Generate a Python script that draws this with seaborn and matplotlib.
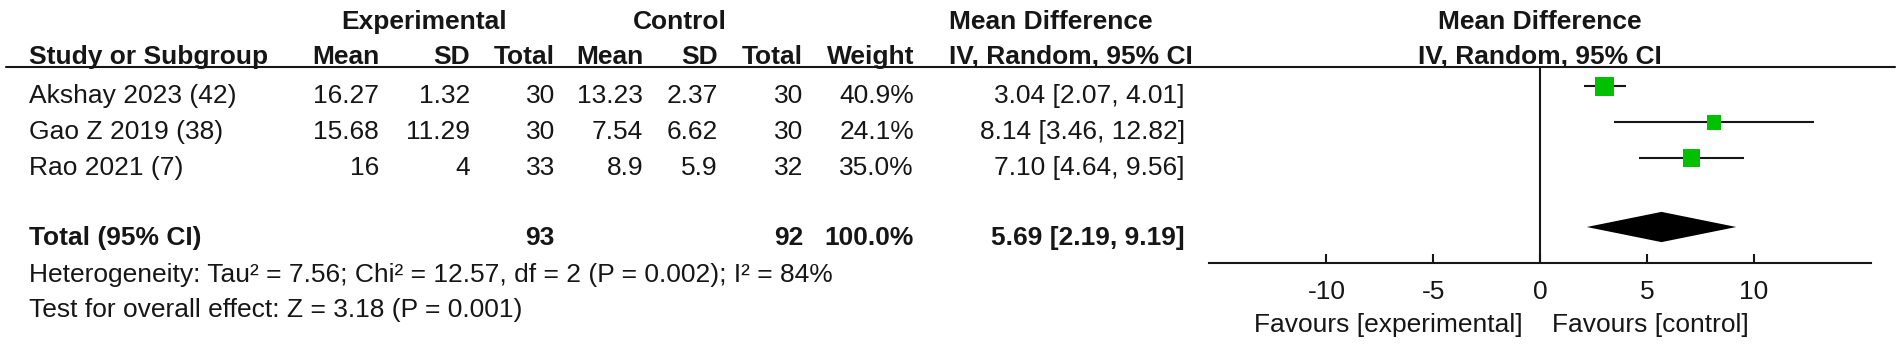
import numpy as np
import pandas as pd
import seaborn as sns
import matplotlib.pyplot as plt

# study data
studies = ["Akshay 2023 (42)", "Gao Z 2019 (38)", "Rao 2021 (7)"]
exp_mean = ["16.27", "15.68", "16"]
exp_sd = ["1.32", "11.29", "4"]
exp_n = [30, 30, 33]
ctl_mean = ["13.23", "7.54", "8.9"]
ctl_sd = ["2.37", "6.62", "5.9"]
ctl_n = [30, 30, 32]
weight = [40.9, 24.1, 35.0]
md = [3.04, 8.14, 7.10]
md_lo = [2.07, 3.46, 4.64]
md_hi = [4.01, 12.82, 9.56]

# pooled
tot_md, tot_lo, tot_hi = 5.69, 2.19, 9.19
tot_exp_n, tot_ctl_n = 93, 92
het_text = "Heterogeneity: Tau\u00b2 = 7.56; Chi\u00b2 = 12.57, df = 2 (P = 0.002); I\u00b2 = 84%"
eff_text = "Test for overall effect: Z = 3.18 (P = 0.001)"
xticks = [-10, -5, 0, 5, 10]

sns.set_theme(style="white")
plt.rcParams["font.family"] = ["Liberation Sans", "DejaVu Sans"]
plt.rcParams["font.size"] = 19
TXT = "#161616"
GREEN = "#00c000"

W, H = 1901, 347
fig = plt.figure(figsize=(W / 100, H / 100), dpi=100)

# table axes in pixel coords
ax_t = fig.add_axes([0, 0, 1, 1])
ax_t.set_xlim(0, W)
ax_t.set_ylim(H, 0)
ax_t.axis("off")

# forest axes
x0, x1, ytop, ybot = 1209, 1871, 66.7, 263
ax = fig.add_axes([x0 / W, 1 - ybot / H, (x1 - x0) / W, (ybot - ytop) / H])
ax.patch.set_visible(False)
row0, step = 86.3, 36.0
ax.set_ylim((ybot - row0) / step, (ytop - row0) / step)
ax.set_xlim(-15.5, 15.5)

df = pd.DataFrame({"study": studies, "md": md, "lo": md_lo, "hi": md_hi,
                   "w": weight, "row": np.arange(len(studies))})
tot_row = (227 - row0) / step

ax.axvline(0, color=TXT, lw=1.5, zorder=1)
ax.hlines(df["row"], df["lo"], df["hi"], color=TXT, lw=1.5, zorder=2)
sns.scatterplot(data=df, x="md", y="row", size="w",
                sizes={w: w * 4.6 for w in weight}, marker="s",
                color=GREEN, edgecolor="none", legend=False, ax=ax, zorder=3)
ax.fill([tot_lo, tot_md, tot_hi, tot_md], [tot_row, tot_row - 0.42, tot_row, tot_row + 0.42],
        color="black", lw=0, zorder=3)

ax.set_xticks(xticks)
ax.set_xticklabels([str(t) for t in xticks])
ax.set_yticks([])
ax.set_xlabel("")
ax.set_ylabel("")
for s in ["top", "left", "right"]:
    ax.spines[s].set_visible(False)
ax.spines["bottom"].set_linewidth(1.5)
ax.spines["bottom"].set_color(TXT)
ax.tick_params(axis="x", direction="in", length=6.5, width=1.5, color=TXT,
               pad=12, labelsize=19, labelcolor=TXT, bottom=True)

# header
ax_t.plot([6, 1895], [66.7, 66.7], color=TXT, lw=1.5)
hb1, hb2 = 29, 63.5
bold = dict(fontweight="bold", color=TXT, va="baseline")
ax_t.text(424, hb1, "Experimental", ha="center", **bold)
ax_t.text(680, hb1, "Control", ha="center", **bold)
ax_t.text(949, hb1, "Mean Difference", ha="left", **bold)
ax_t.text(1540, hb1, "Mean Difference", ha="center", **bold)
ax_t.text(29, hb2, "Study or Subgroup", ha="left", **bold)
cols = [379, 470, 555, 643, 718, 803, 914]
for x, lab in zip(cols, ["Mean", "SD", "Total", "Mean", "SD", "Total", "Weight"]):
    ax_t.text(x, hb2, lab, ha="right", **bold)
ax_t.text(949, hb2, "IV, Random, 95% CI", ha="left", **bold)
ax_t.text(1540, hb2, "IV, Random, 95% CI", ha="center", **bold)

# study rows
norm = dict(color=TXT, va="baseline")
for i in range(len(studies)):
    yb = 103 + step * i
    ax_t.text(29, yb, studies[i], ha="left", **norm)
    vals = [exp_mean[i], exp_sd[i], exp_n[i], ctl_mean[i], ctl_sd[i], ctl_n[i],
            f"{weight[i]:.1f}%"]
    for x, v in zip(cols, vals):
        ax_t.text(x, yb, str(v), ha="right", **norm)
    ax_t.text(1185, yb, f"{md[i]:.2f} [{md_lo[i]:.2f}, {md_hi[i]:.2f}]", ha="right", **norm)

# total row
yb = 245
ax_t.text(29, yb, "Total (95% CI)", ha="left", **bold)
ax_t.text(cols[2], yb, str(tot_exp_n), ha="right", **bold)
ax_t.text(cols[5], yb, str(tot_ctl_n), ha="right", **bold)
ax_t.text(cols[6], yb, f"{sum(weight):.1f}%", ha="right", **bold)
ax_t.text(1185, yb, f"{tot_md:.2f} [{tot_lo:.2f}, {tot_hi:.2f}]", ha="right", **bold)

ax_t.text(29, 282, het_text, ha="left", **norm)
ax_t.text(29, 317, eff_text, ha="left", **norm)

ax_t.text(1523, 332, "Favours [experimental]", ha="right", **norm)
ax_t.text(1552, 332, "Favours [control]", ha="left", **norm)

fig.savefig("out.png", dpi=100)
